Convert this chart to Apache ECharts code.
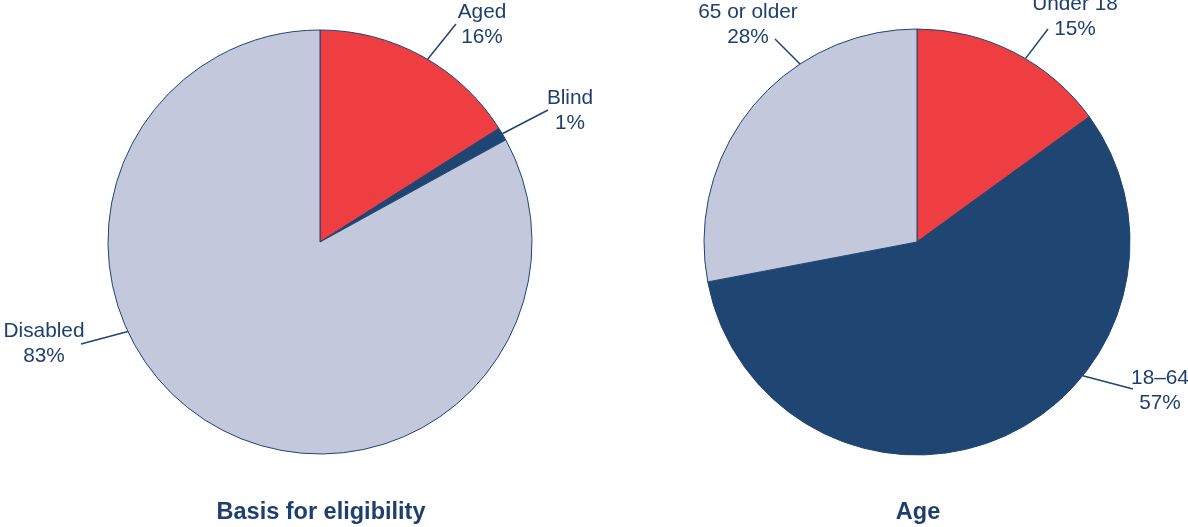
<!DOCTYPE html>
<html>
<head>
<meta charset="utf-8">
<script src="https://cdn.jsdelivr.net/npm/echarts@6/dist/echarts.min.js"></script>
<style>
  html, body { margin: 0; padding: 0; background: #fff; }
  #main { width: 1188px; height: 527px; }
</style>
</head>
<body>
<div id="main"></div>
<script>
// data
var basisNames = ['Aged', 'Blind', 'Disabled'];
var basisValues = [16, 1, 83];
var ageNames = ['Under 18', '18–64', '65 or older'];
var ageValues = [15, 57, 28];
var chartTitles = ['Basis for eligibility', 'Age'];

var RED = '#EE3E42', NAVY = '#1F4573', LIGHT = '#C3C8DC', TEXT = '#1E3F6E';
var pieColors = [RED, NAVY, LIGHT];

// pie geometry (pixels)
var pies = [
  { center: [320, 242], r: 212 },
  { center: [917, 242], r: 213 }
];

// label placement: edge angle (deg, math), line end, text centre
var labelCfg = [
  [
    { a: 59.5, end: [456, 24], txt: [482, 25] },
    { a: 30.7, end: [548, 110], txt: [570, 111] },
    { a: 205, end: [81, 344], txt: [44, 344] }
  ],
  [
    { a: 59.4, end: [1048, 29], txt: [1075, 17] },
    { a: -38.9, end: [1133, 389], txt: [1160, 391] },
    { a: 123.3, end: [775, 39], txt: [748, 25] }
  ]
];

function toData(names, values) {
  return names.map(function (n, i) {
    return { name: n, value: values[i], itemStyle: { color: pieColors[i] } };
  });
}

function makePie(idx, names, values) {
  return {
    type: 'pie',
    center: pies[idx].center,
    radius: pies[idx].r,
    startAngle: 90,
    clockwise: true,
    percentPrecision: 0,
    silent: true,
    itemStyle: { borderColor: NAVY, borderWidth: 1 },
    label: {
      show: true,
      position: 'outside',
      formatter: '{b}\n{d}%',
      color: TEXT,
      fontFamily: 'Liberation Sans, Arial, sans-serif',
      fontSize: 20.8,
      lineHeight: 25,
      align: 'center'
    },
    labelLine: { show: true, length: 20, length2: 0, smooth: false,
      lineStyle: { color: NAVY, width: 1.5 } },
    labelLayout: function (params) {
      var c = labelCfg[idx][params.dataIndex];
      var p = pies[idx];
      var rad = c.a * Math.PI / 180;
      var sx = p.center[0] + p.r * Math.cos(rad);
      var sy = p.center[1] - p.r * Math.sin(rad);
      return {
        x: c.txt[0], y: c.txt[1],
        align: 'center', verticalAlign: 'middle',
        labelLinePoints: [[sx, sy], [c.end[0], c.end[1]], [c.end[0], c.end[1]]]
      };
    },
    data: toData(names, values)
  };
}

var chart = echarts.init(document.getElementById('main'));
chart.setOption({
  animation: false,
  series: [
    makePie(0, basisNames, basisValues),
    makePie(1, ageNames, ageValues)
  ],
  graphic: chartTitles.map(function (t, i) {
    return {
      type: 'text',
      x: pies[i].center[0] + 1,
      y: 513,
      style: {
        text: t,
        fill: TEXT,
        font: 'bold 23.5px "Liberation Sans", Arial, sans-serif',
        textAlign: 'center',
        textVerticalAlign: 'middle'
      }
    };
  })
});
</script>
</body>
</html>
